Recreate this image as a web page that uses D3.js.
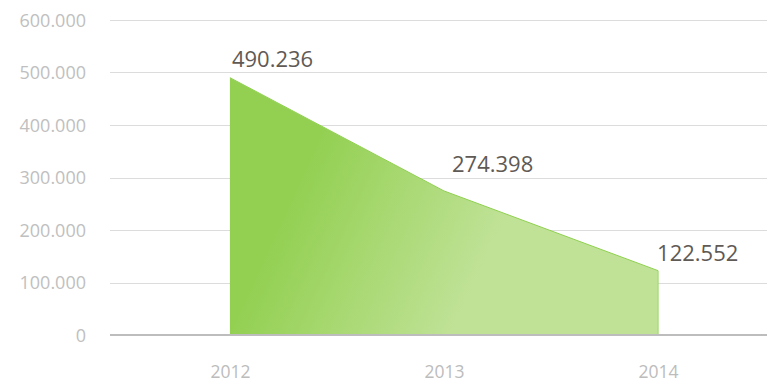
<!DOCTYPE html>
<html>
<head>
<meta charset="utf-8">
<script src="https://cdn.jsdelivr.net/npm/d3@7"></script>
<style>
  html, body { margin: 0; padding: 0; background: #fff; }
  svg { display: block; font-family: "Open Sans", sans-serif; }
</style>
</head>
<body>
<svg id="chart" width="774" height="382"></svg>
<script>
// Yearly totals
const years = ["2012", "2013", "2014"];
const totals = [490236, 274398, 122552];
const yTicks = [0, 100000, 200000, 300000, 400000, 500000, 600000];
// Nudges for the value labels relative to their points (dx, dy)
const labelNudge = [[2, -11], [8, -19], [-1, -10]];

const W = 774, H = 382;
const plot = { left: 110, right: 767, top: 20, bottom: 335 };

const svg = d3.select("#chart");

const x = d3.scalePoint()
  .domain(years)
  .range([plot.left, 778])
  .padding(0.56);

const y = d3.scaleLinear()
  .domain([0, 600000])
  .range([plot.bottom, plot.top]);

const fmt = v => d3.format(",")(v).replace(/,/g, ".");

// Horizontal gridlines
svg.append("g")
  .selectAll("line")
  .data(yTicks.filter(t => t > 0))
  .join("line")
  .attr("x1", plot.left)
  .attr("x2", plot.right)
  .attr("y1", d => Math.round(y(d)) + 0.5)
  .attr("y2", d => Math.round(y(d)) + 0.5)
  .attr("stroke", "#dcdcdc")
  .attr("stroke-width", 1);

// Y axis labels
const yAxis = d3.axisLeft(y).tickValues(yTicks).tickFormat(fmt).tickSize(0).tickPadding(0);
svg.append("g")
  .attr("transform", `translate(86,0)`)
  .call(yAxis)
  .call(g => g.select(".domain").remove())
  .call(g => g.selectAll("text")
    .attr("fill", "#c0c0c0")
    .attr("font-size", 18)
    .attr("font-family", "Open Sans, sans-serif")
    .attr("dy", "0.35em"));

// Area gradient
const defs = svg.append("defs");
const grad = defs.append("linearGradient")
  .attr("id", "areaFill")
  .attr("gradientUnits", "userSpaceOnUse")
  .attr("x1", 300).attr("y1", 180)
  .attr("x2", 485).attr("y2", 265);
grad.append("stop").attr("offset", "0%").attr("stop-color", "#93d052");
grad.append("stop").attr("offset", "100%").attr("stop-color", "#c0e297");

const pts = years.map((yr, i) => ({ year: yr, value: totals[i] }));

const area = d3.area()
  .x(d => x(d.year))
  .y0(y(0))
  .y1(d => y(d.value));

svg.append("path")
  .datum(pts)
  .attr("d", area)
  .attr("fill", "url(#areaFill)");

// Top edge and closing right edge
const line = d3.line().x(d => x(d.year)).y(d => y(d.value));
svg.append("path")
  .datum(pts)
  .attr("d", line)
  .attr("fill", "none")
  .attr("stroke", "#8fd14f")
  .attr("stroke-width", 1);
const last = pts[pts.length - 1];
svg.append("line")
  .attr("x1", x(last.year)).attr("x2", x(last.year))
  .attr("y1", y(last.value)).attr("y2", y(0))
  .attr("stroke", "#9ed66a")
  .attr("stroke-width", 1);

// Baseline
svg.append("line")
  .attr("x1", plot.left)
  .attr("x2", plot.right)
  .attr("y1", y(0))
  .attr("y2", y(0))
  .attr("stroke", "#bdbdbd")
  .attr("stroke-width", 2);

// X axis labels
const xAxis = d3.axisBottom(x).tickSize(0).tickPadding(0);
svg.append("g")
  .attr("transform", `translate(0,${plot.bottom})`)
  .call(xAxis)
  .call(g => g.select(".domain").remove())
  .call(g => g.selectAll("text")
    .attr("fill", "#bcbcbc")
    .attr("font-size", 17.5)
    .attr("font-family", "Open Sans, sans-serif")
    .attr("dy", null)
    .attr("y", 43));

// Value labels
svg.append("g")
  .selectAll("text")
  .data(pts)
  .join("text")
  .attr("x", (d, i) => x(d.year) + labelNudge[i][0])
  .attr("y", (d, i) => y(d.value) + labelNudge[i][1])
  .attr("fill", "#5f5a55")
  .attr("font-size", 22)
  .text(d => fmt(d.value));
</script>
</body>
</html>
